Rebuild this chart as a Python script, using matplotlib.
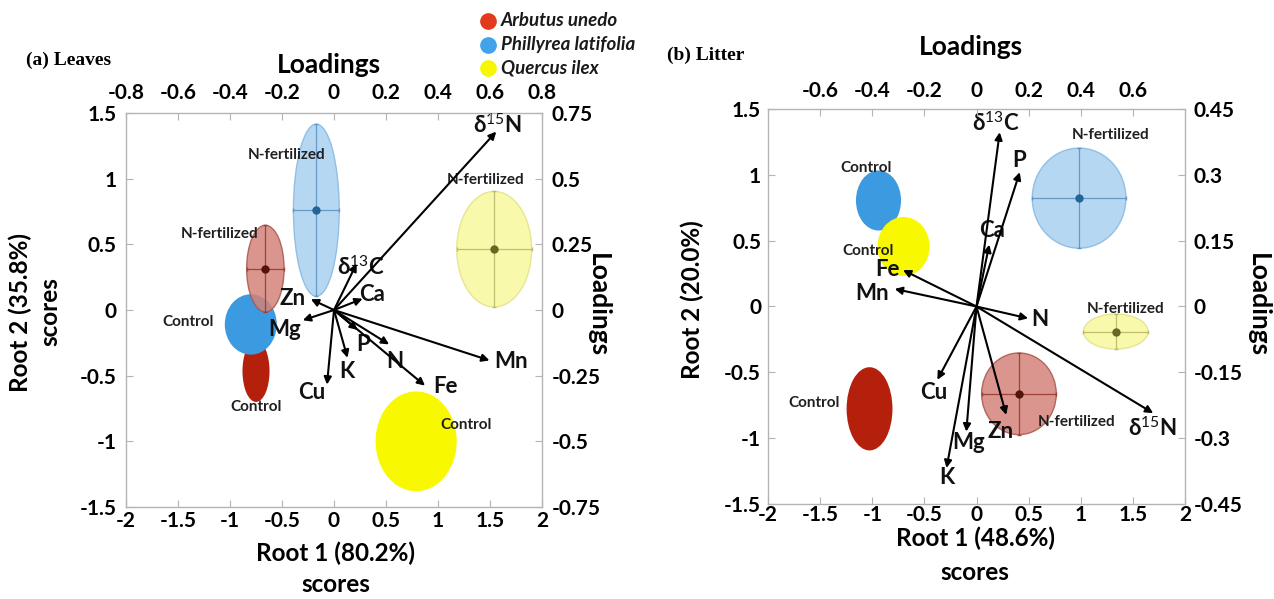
import matplotlib
matplotlib.use("Agg")
import matplotlib.pyplot as plt
from matplotlib.patches import Ellipse
from matplotlib.lines import Line2D

plt.rcParams['axes.unicode_minus'] = False
plt.rcParams['font.family'] = ['Lato', 'DejaVu Sans']
plt.rcParams['mathtext.fontset'] = 'custom'
plt.rcParams['mathtext.rm'] = 'Lato'
plt.rcParams['mathtext.bf'] = 'Lato:bold'

W, H = 1274, 599

# ---------------- data ----------------
species = ['Arbutus unedo', 'Phillyrea latifolia', 'Quercus ilex']
treatments = ['Control', 'N-fertilized']

# panel (a) Leaves: group centroids (scores) and ellipse semi-axes
a_species = [0, 0, 1, 1, 2, 2]
a_treat = [0, 1, 0, 1, 0, 1]
a_cx = [-0.75, -0.66, -0.80, -0.17, 0.79, 1.54]
a_cy = [-0.465, 0.315, -0.11, 0.76, -1.00, 0.463]
a_sx = [0.13, 0.18, 0.25, 0.22, 0.39, 0.36]
a_sy = [0.235, 0.33, 0.23, 0.655, 0.38, 0.44]

a_vars = ['δ15N', 'δ13C', 'Ca', 'Zn', 'Mg', 'Cu', 'K', 'P', 'N', 'Fe', 'Mn']
a_lx = [0.624, 0.087, 0.110, -0.089, -0.120, -0.027, 0.052, 0.091, 0.212, 0.350, 0.598]
a_ly = [0.679, 0.177, 0.043, 0.041, -0.039, -0.284, -0.182, -0.076, -0.131, -0.288, -0.192]

# panel (b) Litter
b_species = [0, 0, 1, 1, 2, 2]
b_treat = [0, 1, 0, 1, 0, 1]
b_cx = [-1.026, 0.407, -0.94, 0.984, -0.70, 1.336]
b_cy = [-0.777, -0.663, 0.805, 0.823, 0.456, -0.19]
b_sx = [0.22, 0.358, 0.216, 0.449, 0.25, 0.31]
b_sy = [0.316, 0.31, 0.228, 0.38, 0.224, 0.133]

b_vars = ['δ13C', 'P', 'Ca', 'Fe', 'Mn', 'N', 'δ15N', 'Cu', 'Mg', 'K', 'Zn']
b_lx = [0.089, 0.166, 0.049, -0.282, -0.314, 0.198, 0.678, -0.150, -0.039, -0.115, 0.114]
b_ly = [0.397, 0.306, 0.141, 0.083, 0.040, -0.027, -0.243, -0.167, -0.285, -0.368, -0.247]

score_xticks = [-2, -1.5, -1, -0.5, 0, 0.5, 1, 1.5, 2]
score_yticks = [-1.5, -1, -0.5, 0, 0.5, 1, 1.5]
a_load_xticks = [-0.8, -0.6, -0.4, -0.2, 0, 0.2, 0.4, 0.6, 0.8]
a_load_yticks = [-0.75, -0.5, -0.25, 0, 0.25, 0.5, 0.75]
b_load_xticks = [-0.6, -0.4, -0.2, 0, 0.2, 0.4, 0.6]
b_load_yticks = [-0.45, -0.3, -0.15, 0, 0.15, 0.3, 0.45]

# ---------------- style / layout ----------------
solid_col = ['#b5200d', '#3b9ae0', '#f8f800']
light_face = ['#d4837a', '#a9d0f0', '#f8f89c']
light_edge = ['#a9564b', '#86b8e0', '#e2e28a']
cross_col = ['#9a3a2e', '#5b93c4', '#b8b86a']
dot_col = ['#4a0c05', '#1d5d8e', '#5e5e1a']
legend_col = ['#e23a1c', '#42a2ea', '#f7f700']

def fmt(v):
    return '%g' % v

fig = plt.figure(figsize=(W / 100, H / 100), dpi=100)

def px_rect(l, t, r, b):
    return [l / W, 1 - b / H, (r - l) / W, (b - t) / H]

def ftext(x, y, s, **kw):
    kw.setdefault('ha', 'center')
    kw.setdefault('va', 'center')
    fig.text(x / W, 1 - y / H, s, **kw)

GRAY = '#b4b4b4'
TICKFS = 15

def make_panel(rect, cx, cy, sx, sy, spc, trt, vars_, lx, ly,
               lxticks, lyticks, lxlim, lylim, group_lab, var_lab, pads):
    ax = fig.add_axes(rect)
    ax.set_xlim(-2, 2)
    ax.set_ylim(-1.5, 1.5)
    for s in ax.spines.values():
        s.set_color(GRAY)
        s.set_linewidth(1.0)
    ax.set_xticks(score_xticks)
    ax.set_xticklabels([fmt(v) for v in score_xticks])
    ax.set_yticks(score_yticks)
    ax.set_yticklabels([fmt(v) for v in score_yticks])
    ax.tick_params(axis='x', direction='in', length=5, color=GRAY,
                   labelsize=TICKFS, pad=pads[0])
    ax.tick_params(axis='y', direction='in', length=5, color=GRAY,
                   labelsize=TICKFS, pad=pads[1])
    for lab in ax.get_xticklabels() + ax.get_yticklabels():
        lab.set_fontweight('bold')

    order = [i for i in range(len(cx)) if trt[i] == 0] + \
            [i for i in range(len(cx)) if trt[i] == 1]
    for i in order:
        sp = spc[i]
        if trt[i] == 0:
            e = Ellipse((cx[i], cy[i]), 2 * sx[i], 2 * sy[i],
                        facecolor=solid_col[sp], edgecolor='none', zorder=2)
            ax.add_patch(e)
        else:
            e = Ellipse((cx[i], cy[i]), 2 * sx[i], 2 * sy[i],
                        facecolor=light_face[sp], edgecolor=light_edge[sp],
                        lw=1.0, alpha=0.85, zorder=3)
            ax.add_patch(e)
            ax.errorbar(cx[i], cy[i], xerr=sx[i], yerr=sy[i], fmt='o',
                        ms=5, mfc=dot_col[sp], mec=dot_col[sp],
                        ecolor=cross_col[sp], elinewidth=0.9, capsize=1.5,
                        alpha=0.9, zorder=4)
        gx, gy = group_lab[i]
        ax.text(gx, gy, treatments[trt[i]], ha='center', va='center',
                fontsize=11, fontweight='bold', color='#202020', zorder=6)

    ax2 = fig.add_axes(rect, frameon=False)
    ax2.patch.set_visible(False)
    ax2.set_xlim(*lxlim)
    ax2.set_ylim(*lylim)
    ax2.xaxis.tick_top()
    ax2.yaxis.tick_right()
    ax2.set_xticks(lxticks)
    ax2.set_xticklabels([fmt(v) for v in lxticks])
    ax2.set_yticks(lyticks)
    ax2.set_yticklabels([fmt(v) for v in lyticks])
    ax2.tick_params(axis='x', direction='in', length=5, color=GRAY,
                    labelsize=TICKFS, pad=pads[2])
    ax2.tick_params(axis='y', direction='in', length=5, color=GRAY,
                    labelsize=TICKFS, pad=pads[3])
    for lab in ax2.get_xticklabels() + ax2.get_yticklabels():
        lab.set_fontweight('bold')

    for k in range(len(vars_)):
        ax2.annotate('', xy=(lx[k], ly[k]), xytext=(0, 0),
                     arrowprops=dict(arrowstyle='-|>', color='black', lw=1.5,
                                     mutation_scale=11, shrinkA=0, shrinkB=0),
                     zorder=7)
        name = vars_[k]
        if name.startswith('δ'):
            txt = 'δ$^{' + name[1:3] + '}$' + name[3:]
        else:
            txt = name
        tx, ty = var_lab[k]
        ax.text(tx, ty, txt, ha='center', va='center', fontsize=16,
                fontweight='bold', color='#111111', zorder=8)
    return ax, ax2

# label layouts (score coordinates)
a_group_lab = [(-0.75, -0.735), (-1.10, 0.58), (-1.40, -0.09),
               (-0.46, 1.18), (1.27, -0.875), (1.46, 0.99)]
a_var_lab = [(1.57, 1.41), (0.26, 0.33), (0.37, 0.12), (-0.40, 0.09),
             (-0.47, -0.15), (-0.21, -0.63), (0.12, -0.47), (0.28, -0.26),
             (0.58, -0.39), (1.07, -0.58), (1.70, -0.39)]
b_group_lab = [(-1.56, -0.73), (0.96, -0.88), (-1.06, 1.05),
               (1.29, 1.30), (-1.04, 0.42), (1.43, -0.02)]
b_var_lab = [(0.19, 1.40), (0.41, 1.11), (0.15, 0.58), (-0.85, 0.28),
             (-1.00, 0.10), (0.61, -0.10), (1.69, -0.92), (-0.41, -0.65),
             (-0.08, -1.03), (-0.28, -1.30), (0.23, -0.95)]

make_panel(px_rect(126, 113, 542, 507), a_cx, a_cy, a_sx, a_sy, a_species,
           a_treat, a_vars, a_lx, a_ly, a_load_xticks, a_load_yticks,
           (-0.8, 0.8), (-0.75, 0.75), a_group_lab, a_var_lab,
           pads=(3, 7, 7, 7))
make_panel(px_rect(768, 109, 1185, 504), b_cx, b_cy, b_sx, b_sy, b_species,
           b_treat, b_vars, b_lx, b_ly, b_load_xticks, b_load_yticks,
           (-0.8, 0.8), (-0.45, 0.45), b_group_lab, b_var_lab,
           pads=(1, 5, 6, 6))

# figure-level labels
serif = ['Liberation Serif', 'DejaVu Serif']
ftext(26, 60, '(a) Leaves', ha='left', family=serif, fontsize=14, fontweight='bold')
ftext(667, 55, '(b) Litter', ha='left', family=serif, fontsize=14, fontweight='bold')
ftext(329, 65, 'Loadings', fontsize=19, fontweight='bold')
ftext(971, 47, 'Loadings', fontsize=19, fontweight='bold')
ftext(336, 553, 'Root 1 (80.2%)', fontsize=17.5, fontweight='bold')
ftext(336, 585, 'scores', fontsize=17.5, fontweight='bold')
ftext(975, 538, 'Root 1 (48.6%)', fontsize=17.5, fontweight='bold')
ftext(975, 572, 'scores', fontsize=17.5, fontweight='bold')
ftext(20, 312, 'Root 2 (35.8%)', rotation=90, fontsize=17.5, fontweight='bold')
ftext(50, 312, 'scores', rotation=90, fontsize=17.5, fontweight='bold')
ftext(692, 300, 'Root 2 (20.0%)', rotation=90, fontsize=17.5, fontweight='bold')
ftext(598, 305, 'Loadings', rotation=270, fontsize=19, fontweight='bold')
ftext(1258, 305, 'Loadings', rotation=270, fontsize=19, fontweight='bold')

# legend
for k, name in enumerate(species):
    y = 21 + 23.5 * k
    fig.add_artist(Line2D([488 / W], [1 - y / H], marker='o', ms=11,
                          color=legend_col[k], mec=legend_col[k],
                          transform=fig.transFigure))
    ftext(501, y, name, ha='left', fontsize=13.5, fontweight='bold',
          fontstyle='italic', color='#1a1a1a')

fig.savefig('out.png', dpi=100)
